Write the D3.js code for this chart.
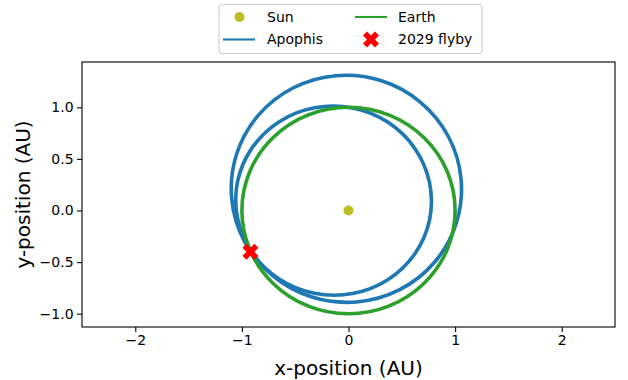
<!DOCTYPE html>
<html>
<head>
<meta charset="utf-8">
<script src="https://cdn.jsdelivr.net/npm/d3@7"></script>
<style>
  body { margin: 0; background: #fff; }
  svg { font-family: "DejaVu Sans", sans-serif; }
</style>
</head>
<body>
<div id="chart"></div>
<script>
// orbit points (AU)
var earthOrbit = [
  [1.0, 0.0], [0.924, 0.383], [0.707, 0.707], [0.383, 0.924],
  [0.0, 1.0], [-0.383, 0.924], [-0.707, 0.707], [-0.924, 0.383],
  [-1.0, 0.0], [-0.924, -0.383], [-0.707, -0.707], [-0.383, -0.924],
  [0.0, -1.0], [0.383, -0.924], [0.707, -0.707], [0.924, -0.383]
];
// Apophis before the 2029 flyby
var apophisBefore = [
  [-0.903, 0.609], [-1.041, 0.279], [-1.040, -0.079], [-0.904, -0.409],
  [-0.651, -0.664], [-0.320, -0.803], [0.038, -0.805], [0.369, -0.671],
  [0.623, -0.419], [0.761, -0.089], [0.760, 0.269], [0.624, 0.599],
  [0.371, 0.854], [0.040, 0.993], [-0.318, 0.995], [-0.649, 0.861]
];
// Apophis after the 2029 flyby
var apophisAfter = [
  [-0.116, 1.306], [-0.521, 1.187], [-0.849, 0.919], [-1.051, 0.543],
  [-1.096, 0.116], [-0.977, -0.297], [-0.713, -0.631], [-0.343, -0.839],
  [0.076, -0.886], [0.481, -0.767], [0.809, -0.499], [1.011, -0.123],
  [1.056, 0.304], [0.937, 0.717], [0.673, 1.051], [0.303, 1.259]
];
var sun = [0, 0];
var flyby = [-0.92, -0.40];

var xTicks = [-2, -1, 0, 1, 2];
var yTicks = [-1.0, -0.5, 0.0, 0.5, 1.0];
var xDomain = [-2.5, 2.5];
var yDomain = [-1.129, 1.439];

var width = 628, height = 380;
var pLeft = 82, pRight = 615, pTop = 62, pBottom = 327;

var svg = d3.select("#chart").append("svg")
    .attr("width", width)
    .attr("height", height);

var x = d3.scaleLinear().domain(xDomain).range([pLeft, pRight]);
var y = d3.scaleLinear().domain(yDomain).range([pBottom, pTop]);

svg.append("defs").append("clipPath").attr("id", "clip")
  .append("rect").attr("x", pLeft).attr("y", pTop)
  .attr("width", pRight - pLeft).attr("height", pBottom - pTop);

var plot = svg.append("g").attr("clip-path", "url(#clip)");

var line = d3.line()
    .x(function(d) { return x(d[0]); })
    .y(function(d) { return y(d[1]); })
    .curve(d3.curveCatmullRomClosed);

// sun
plot.append("circle")
    .attr("cx", x(sun[0])).attr("cy", y(sun[1]))
    .attr("r", 5).attr("fill", "#bcbd22");

[apophisBefore, apophisAfter].forEach(function(o) {
  plot.append("path").attr("d", line(o))
      .attr("fill", "none").attr("stroke", "#1f77b4").attr("stroke-width", 3.6);
});

plot.append("path").attr("d", line(earthOrbit))
    .attr("fill", "none").attr("stroke", "#2ca02c").attr("stroke-width", 3.6);

var xMark = d3.symbol().type(d3.symbolCross).size(160);
plot.append("path").attr("d", xMark())
    .attr("transform", "translate(" + x(flyby[0]) + "," + y(flyby[1]) + ") rotate(45)")
    .attr("fill", "red");

// axes
var xAxis = d3.axisBottom(x).tickValues(xTicks).tickFormat(d3.format("d")).tickSize(4.9).tickPadding(3.5);
var yAxis = d3.axisLeft(y).tickValues(yTicks).tickFormat(d3.format(".1f")).tickSize(4.9).tickPadding(3.5);

var gx = svg.append("g").attr("transform", "translate(0," + pBottom + ")").call(xAxis);
var gy = svg.append("g").attr("transform", "translate(" + pLeft + ",0)").call(yAxis);
[gx, gy].forEach(function(g) {
  g.select(".domain").remove();
  g.selectAll("line").attr("stroke", "#000").attr("stroke-width", 1.1);
  g.selectAll("text").attr("fill", "#000").style("font-size", "14px")
    .style("font-family", "DejaVu Sans");
});

svg.append("rect").attr("x", pLeft).attr("y", pTop)
    .attr("width", pRight - pLeft).attr("height", pBottom - pTop)
    .attr("fill", "none").attr("stroke", "#000").attr("stroke-width", 1.1);

svg.append("text").attr("x", (pLeft + pRight) / 2).attr("y", 375)
    .attr("text-anchor", "middle").style("font-size", "20px").text("x-position (AU)");
svg.append("text").attr("transform", "translate(30," + (pTop + pBottom) / 2 + ") rotate(-90)")
    .attr("text-anchor", "middle").style("font-size", "20px").text("y-position (AU)");

// legend
var lg = svg.append("g");
lg.append("rect").attr("x", 219).attr("y", 4.5).attr("width", 263).attr("height", 49)
    .attr("rx", 3).attr("fill", "#fff").attr("stroke", "#d0d0d0").attr("stroke-width", 1.1);
lg.append("circle").attr("cx", 239.5).attr("cy", 17).attr("r", 5).attr("fill", "#bcbd22");
lg.append("line").attr("x1", 223).attr("x2", 255).attr("y1", 39.5).attr("y2", 39.5)
    .attr("stroke", "#1f77b4").attr("stroke-width", 2.1);
lg.append("line").attr("x1", 355).attr("x2", 387).attr("y1", 17).attr("y2", 17)
    .attr("stroke", "#2ca02c").attr("stroke-width", 2.1);
lg.append("path").attr("d", xMark())
    .attr("transform", "translate(371,39.5) rotate(45)").attr("fill", "red");
var labels = [["Sun", 267, 17], ["Apophis", 267, 39.5], ["Earth", 398, 17], ["2029 flyby", 398, 39.5]];
labels.forEach(function(l) {
  lg.append("text").attr("x", l[1]).attr("y", l[2]).attr("dy", "0.35em")
    .style("font-size", "14px").text(l[0]);
});
</script>
</body>
</html>
